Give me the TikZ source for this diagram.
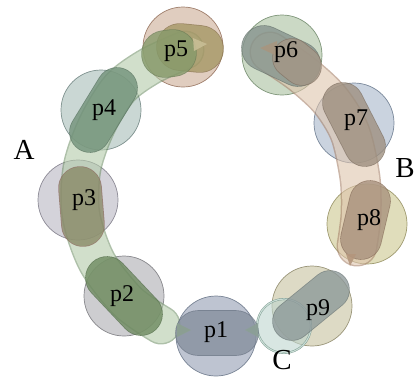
\documentclass[tikz,border=0pt]{standalone}
\usepackage{fontspec}
\setmainfont{Liberation Serif}
\newcommand\mycapsule[5]{%
  \begin{scope}[transparency group, opacity=0.8]
    \draw[line width=#3+1.6pt, line cap=round, color=#5] #1 -- #2;
    \draw[line width=#3, line cap=round, color=#4] #1 -- #2;
  \end{scope}}
\begin{document}
\begin{tikzpicture}[x=1pt, y=-1pt,
  pc/.style={circle, minimum size=80pt, inner sep=0pt, draw, line width=0.7pt, fill opacity=0.75, draw opacity=0.9},
  plabel/.style={font=\fontsize{24}{24}\selectfont, inner sep=0pt},
  big/.style={font=\fontsize{29}{29}\selectfont, inner sep=0pt},
  tip/.style={draw=none, fill opacity=0.9}]
\useasboundingbox (0,0) rectangle (419,376);
% circles
\node[pc, fill={rgb,255:red,168;green,176;blue,194}, draw={rgb,255:red,110;green,122;blue,140}] (p1) at (216,336) {};
\node[pc, fill={rgb,255:red,188;green,188;blue,192}, draw={rgb,255:red,125;green,125;blue,130}] (p2) at (124,296) {};
\node[pc, fill={rgb,255:red,198;green,196;blue,206}, draw={rgb,255:red,130;green,128;blue,140}] (p3) at (78,200) {};
\node[pc, fill={rgb,255:red,184;green,202;blue,198}, draw={rgb,255:red,115;green,135;blue,132}] (p4) at (101,110) {};
\node[pc, fill={rgb,255:red,214;green,188;blue,170}, draw={rgb,255:red,150;green,115;blue,95}] (p5) at (183,47) {};
\node[pc, fill={rgb,255:red,186;green,204;blue,178}, draw={rgb,255:red,115;green,140;blue,110}] (p6) at (282,55) {};
\node[pc, fill={rgb,255:red,184;green,196;blue,212}, draw={rgb,255:red,110;green,125;blue,145}] (p7) at (354,123) {};
\node[pc, fill={rgb,255:red,214;green,210;blue,164}, draw={rgb,255:red,150;green,145;blue,100}] (p8) at (367,224) {};
\node[pc, fill={rgb,255:red,210;green,206;blue,178}, draw={rgb,255:red,145;green,140;blue,110}] (p9) at (312,306) {};
% small circle near C
\node[circle, minimum size=54pt, inner sep=0pt, draw={rgb,255:red,120;green,150;blue,140}, double={rgb,255:red,200;green,220;blue,212}, double distance=1.2pt, fill={rgb,255:red,190;green,214;blue,206}, fill opacity=0.6] (s) at (284,326) {};
% green band
\begin{scope}[transparency group, opacity=0.6]
  \draw[line width=39pt, line cap=round, color={rgb,255:red,120;green,150;blue,112}]
    plot[smooth] coordinates {(185,50) (150,66) (120,88) (97,125) (82,168) (81,215) (97,262) (128,302) (161,325)};
  \draw[line width=36pt, line cap=round, color={rgb,255:red,178;green,202;blue,168}]
    plot[smooth] coordinates {(185,50) (150,66) (120,88) (97,125) (82,168) (81,215) (97,262) (128,302) (161,325)};
\end{scope}
% tan band
\begin{scope}[transparency group, opacity=0.6]
  \draw[line width=41pt, line cap=round, color={rgb,255:red,168;green,132;blue,108}]
    plot[smooth] coordinates {(270,52) (302,74) (330,100) (350,133) (360,178) (361,215) (357,246)};
  \draw[line width=38pt, line cap=round, color={rgb,255:red,222;green,196;blue,172}]
    plot[smooth] coordinates {(270,52) (302,74) (330,100) (350,133) (360,178) (361,215) (357,246)};
\end{scope}
% inner capsules
\mycapsule{(117,88)}{(90,132)}{40pt}{{rgb,255:red,114;green,146;blue,122}}{{rgb,255:red,90;green,118;blue,98}}
\mycapsule{(80,188)}{(83,225)}{42pt}{{rgb,255:red,138;green,138;blue,104}}{{rgb,255:red,140;green,110;blue,95}}
\mycapsule{(107,278)}{(141,314)}{42pt}{{rgb,255:red,110;green,138;blue,96}}{{rgb,255:red,85;green,112;blue,75}}
\mycapsule{(180,47)}{(200,49)}{46pt}{{rgb,255:red,166;green,152;blue,102}}{{rgb,255:red,140;green,120;blue,80}}
\mycapsule{(165,54)}{(173,53)}{46pt}{{rgb,255:red,134;green,154;blue,106}}{{rgb,255:red,110;green,130;blue,90}}
\mycapsule{(264,48)}{(298,64)}{44pt}{{rgb,255:red,134;green,148;blue,142}}{{rgb,255:red,105;green,118;blue,112}}
\mycapsule{(292,58)}{(302,66)}{38pt}{{rgb,255:red,164;green,150;blue,134}}{{rgb,255:red,135;green,118;blue,102}}
\mycapsule{(343,103)}{(365,146)}{40pt}{{rgb,255:red,158;green,144;blue,128}}{{rgb,255:red,130;green,115;blue,100}}
\mycapsule{(370,201)}{(361,239)}{40pt}{{rgb,255:red,168;green,146;blue,126}}{{rgb,255:red,140;green,115;blue,95}}
\mycapsule{(292,321)}{(330,290)}{38pt}{{rgb,255:red,142;green,154;blue,154}}{{rgb,255:red,110;green,122;blue,122}}
\mycapsule{(198,333)}{(236,333)}{44pt}{{rgb,255:red,134;green,144;blue,158}}{{rgb,255:red,105;green,115;blue,130}}
% arrow tips
\fill[tip, fill={rgb,255:red,200;green,190;blue,150}] (207,44) -- (193,38) -- (194,51) -- cycle;
\fill[tip, fill={rgb,255:red,168;green,150;blue,128}] (260,48) -- (277,41) -- (277,56) -- cycle;
\fill[tip, fill={rgb,255:red,140;green,160;blue,145}] (191,330) -- (177,323) -- (177,337) -- cycle;
\fill[tip, fill={rgb,255:red,140;green,160;blue,150}] (245,330) -- (258,323) -- (258,337) -- cycle;
\fill[tip, fill={rgb,255:red,180;green,150;blue,125}] (350,266) -- (346,254) -- (356,254) -- cycle;
% labels
\node[plabel] (t1) at (216,332) {p1};
\node[plabel] (t2) at (122,296) {p2};
\node[plabel] (t3) at (84,200) {p3};
\node[plabel] (t4) at (104,110) {p4};
\node[plabel] (t5) at (176,51) {p5};
\node[plabel] (t6) at (286,52) {p6};
\node[plabel] (t7) at (356,120) {p7};
\node[plabel] (t8) at (369,220) {p8};
\node[plabel] (t9) at (318,310) {p9};
\node[big] (A) at (24,150) {A};
\node[big] (B) at (405,168) {B};
\node[big] (C) at (282,360) {C};
\end{tikzpicture}
\end{document}
